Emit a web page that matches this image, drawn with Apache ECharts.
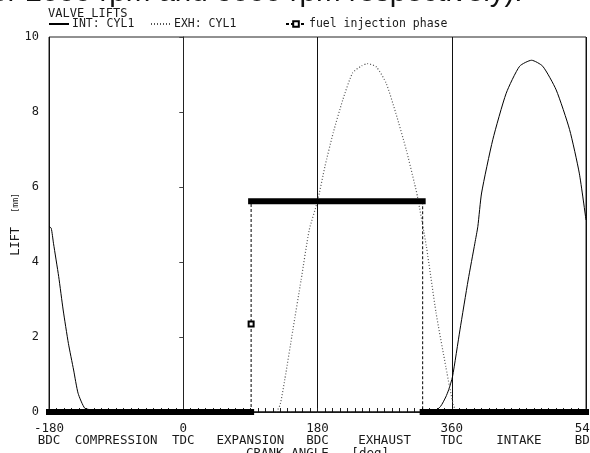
<!DOCTYPE html>
<html>
<head>
<meta charset="utf-8">
<script src="https://cdn.jsdelivr.net/npm/echarts@6/dist/echarts.min.js"></script>
<style>
  html, body { margin: 0; padding: 0; background: #fff; }
  #lifts { width: 590px; height: 453px; }
</style>
</head>
<body>
<div id="lifts"></div>
<script>
// crank angle range and labelled positions
var angleRange = [-180, 540];
var deadCentreAngle = [-180, 0, 180, 360, 540];
var deadCentreName = ["BDC", "TDC", "BDC", "TDC", "BDC"];
var strokeAngle = [-90, 90, 270, 450];
var strokeName = ["COMPRESSION", "EXPANSION", "EXHAUST", "INTAKE"];

// intake valve lift, mm
var intakeAngle = [-180, -177, -174, -167, -161, -154, -147, -141, -132, -121, -115,
  335, 345, 352, 356, 361, 371, 382, 391, 395, 400, 415, 433, 451, 467, 482, 500, 518, 531, 540];
var intakeLift = [4.95, 4.9, 4.5, 3.61, 2.72, 1.83, 1.12, 0.5, 0.1, 0.05, 0,
  0, 0.15, 0.4, 0.6, 0.94, 2.19, 3.52, 4.5, 4.95, 5.84, 7.26, 8.5, 9.22, 9.38, 9.22, 8.59, 7.53, 6.37, 5.12];

// exhaust valve lift, mm
var exhaustAngle = [125, 130, 136, 147, 158, 169, 180, 190, 201, 214, 227, 239, 247,
  259, 272, 285, 299, 310, 314, 326, 339, 352, 357, 362, 366];
var exhaustLift = [0, 0.2, 0.85, 2.19, 3.52, 4.86, 5.62, 6.55, 7.44, 8.33, 9.04, 9.23, 9.29,
  9.2, 8.77, 7.97, 6.99, 6.1, 5.75, 4.41, 2.64, 1.21, 0.68, 0.2, 0];

// fuel injection phase: start / end angle and plotted level
var injectionAngle = [91, 321];
var injectionLevel = 5.62;
var injectionMarkLift = 2.35;

var mono = "DejaVu Sans Mono";
var ink = "#1a1a1a";

function pairs(xs, ys) {
  var out = [];
  for (var i = 0; i < xs.length; i++) out.push([xs[i], ys[i]]);
  return out;
}

var labelMap = {};
deadCentreAngle.forEach(function (a, i) { labelMap[a] = a + "\n" + deadCentreName[i]; });
strokeAngle.forEach(function (a, i) { labelMap[a] = "\n" + strokeName[i]; });

var injStart = injectionAngle[0], injEnd = injectionAngle[1];

function legendAt(name, left, showMark) {
  return {
    data: [name], left: left, top: 18, padding: 0,
    itemWidth: 20, itemHeight: 7, selectedMode: false,
    itemStyle: showMark ? {} : { opacity: 0 },
    textStyle: { fontFamily: mono, fontSize: 11.5, color: ink, padding: [0, 0, 0, -2] }
  };
}

var myChart = echarts.init(document.getElementById("lifts"));
var option = {
  animation: false,
  backgroundColor: "#fff",
  title: [
    {
      text: "for 2000 rpm and 3000 rpm respectively).",
      left: -17, top: -22, padding: 0,
      textStyle: { fontFamily: "Liberation Sans", fontSize: 29.5, fontWeight: "normal", color: "#111" }
    },
    {
      text: "VALVE LIFTS",
      left: 48, top: 8, padding: 0,
      textStyle: { fontFamily: mono, fontSize: 12, fontWeight: "normal", color: ink }
    }
  ],
  legend: [
    legendAt("INT: CYL1", 48, false),
    legendAt("EXH: CYL1", 150, false),
    legendAt("fuel injection phase", 285, true)
  ],
  grid: {
    left: 49, right: 4, top: 37, bottom: 41,
    show: true, borderColor: "#222", borderWidth: 1,
    outerBoundsMode: "none"
  },
  xAxis: {
    type: "value",
    min: angleRange[0], max: angleRange[1], interval: 180,
    name: "CRANK ANGLE   [deg]",
    nameLocation: "middle", nameGap: 35, nameMoveOverlap: false,
    nameTextStyle: { fontFamily: mono, fontSize: 12.5, color: ink, verticalAlign: "top" },
    axisLine: { show: true, lineStyle: { color: "#222", width: 1 } },
    axisTick: { show: true, inside: true, length: 4, lineStyle: { color: "#222" } },
    minorTick: { show: true, splitNumber: 18, length: 4, lineStyle: { color: "#222" } },
    splitLine: { show: true, lineStyle: { color: "#111", width: 1 } },
    axisLabel: {
      customValues: deadCentreAngle.concat(strokeAngle),
      formatter: function (v) { return labelMap[v]; },
      showMinLabel: true, showMaxLabel: true, hideOverlap: false,
      margin: 11, lineHeight: 12,
      fontFamily: mono, fontSize: 12.5, color: ink
    }
  },
  yAxis: {
    type: "value",
    min: 0, max: 10, interval: 2,
    name: "LIFT  {s|[mm]}",
    nameLocation: "middle", nameGap: 27, nameMoveOverlap: false,
    nameTextStyle: {
      fontFamily: mono, fontSize: 12, color: ink,
      rich: { s: { fontFamily: mono, fontSize: 8, color: ink } }
    },
    axisLine: { show: true, lineStyle: { color: "#222", width: 1 } },
    axisTick: { show: true, length: 4, lineStyle: { color: "#444" } },
    splitLine: { show: false },
    axisLabel: { margin: 10, fontFamily: mono, fontSize: 12, color: ink }
  },
  series: [
    {
      name: "INT: CYL1",
      type: "line",
      data: pairs(intakeAngle, intakeLift),
      smooth: 0.2,
      symbol: "none",
      lineStyle: { color: "#000", width: 1, type: "solid" },
      itemStyle: { color: "#000" }
    },
    {
      name: "EXH: CYL1",
      type: "line",
      data: pairs(exhaustAngle, exhaustLift),
      smooth: 0.2,
      symbol: "none",
      lineStyle: { color: "#555", width: 1.2, type: [1, 2] },
      itemStyle: { color: "#555" }
    },
    {
      name: "fuel injection phase",
      type: "line",
      connectNulls: false,
      symbol: "emptyRect",
      symbolSize: 5,
      data: [
        { value: [injStart, 0], symbol: "none" },
        { value: [injStart, injectionMarkLift] },
        { value: [injStart, injectionLevel], symbol: "none" },
        "-",
        { value: [injEnd, injectionLevel], symbol: "none" },
        { value: [injEnd, 0], symbol: "none" }
      ],
      lineStyle: { color: "#000", width: 1, type: [3, 2] },
      itemStyle: { color: "#000", borderColor: "#000", borderWidth: 1 }
    },
    {
      // thick bars: injection level and the baseline outside the injection phase
      name: "injection bars",
      type: "line",
      clip: false,
      symbol: "none",
      connectNulls: false,
      data: [
        [angleRange[0], 0], [injStart, 0], "-",
        [injStart, injectionLevel], [injEnd, injectionLevel], "-",
        [injEnd, 0], [angleRange[1], 0]
      ],
      lineStyle: { color: "#000", width: 6, cap: "square" },
      z: 3
    }
  ]
};
myChart.setOption(option);
</script>
</body>
</html>
